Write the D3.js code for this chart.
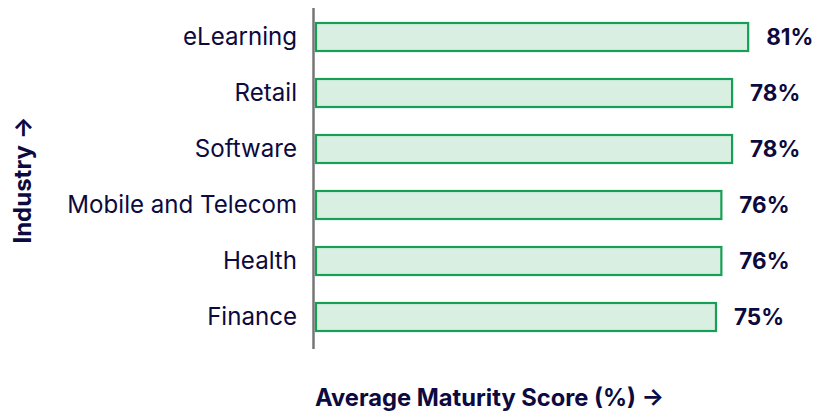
<!DOCTYPE html>
<html>
<head>
<meta charset="utf-8">
<script src="https://cdn.jsdelivr.net/npm/d3@7"></script>
<style>
  html, body { margin: 0; padding: 0; background: #fff; }
  svg { display: block; font-family: Inter, "Noto Sans", sans-serif; }
</style>
</head>
<body>
<svg id="chart" width="816" height="411"></svg>
<script>
// Average maturity score per industry
const industries = ["eLearning", "Retail", "Software", "Mobile and Telecom", "Health", "Finance"];
const scores = [81, 78, 78, 76, 76, 75];
const xTitle = "Average Maturity Score (%) →";
const yTitle = "Industry →";

const ink = "#0c0a3e";
const svg = d3.select("#chart");

const x = d3.scaleLinear().domain([0, 100]).range([315, 851]);
const y = d3.scaleBand()
  .domain(industries)
  .range([9, 345])
  .paddingInner(0.464)
  .paddingOuter(0.232);

const data = industries.map((name, i) => ({ name, value: scores[i] }));

// bars
svg.append("g").selectAll("rect")
  .data(data)
  .join("rect")
  .attr("x", x(0) + 1)
  .attr("y", d => y(d.name) + 1)
  .attr("width", d => x(d.value) - x(0) - 2)
  .attr("height", y.bandwidth() - 2)
  .attr("fill", "#d9efe2")
  .attr("stroke", "#16a056")
  .attr("stroke-width", 2.2);

// vertical axis line
svg.append("line")
  .attr("x1", 313.5).attr("x2", 313.5)
  .attr("y1", 8).attr("y2", 349)
  .attr("stroke", "#767676")
  .attr("stroke-width", 2.5);

// category labels
const yAxis = d3.axisLeft(y).tickSize(0).tickPadding(0);
const gy = svg.append("g")
  .attr("transform", "translate(297,0)")
  .call(yAxis);
gy.select(".domain").remove();
gy.selectAll("text")
  .attr("fill", ink)
  .attr("font-size", 24.1)
  .attr("font-weight", 400)
  .attr("font-family", "Inter, 'Noto Sans', sans-serif");

// value labels
svg.append("g").selectAll("text")
  .data(data)
  .join("text")
  .attr("x", d => x(d.value) + 17)
  .attr("y", d => y(d.name) + y.bandwidth() / 2)
  .attr("dy", "0.35em")
  .attr("fill", ink)
  .attr("font-size", 22.5)
  .attr("font-weight", 700)
  .text(d => d.value + "%");

// axis titles
svg.append("text")
  .attr("x", 315)
  .attr("y", 406)
  .attr("fill", ink)
  .attr("font-size", 23.7)
  .attr("font-weight", 700)
  .text(xTitle);

svg.append("text")
  .attr("transform", "translate(31,180) rotate(-90)")
  .attr("text-anchor", "middle")
  .attr("fill", ink)
  .attr("font-size", 24)
  .attr("font-weight", 700)
  .text(yTitle);
</script>
</body>
</html>
